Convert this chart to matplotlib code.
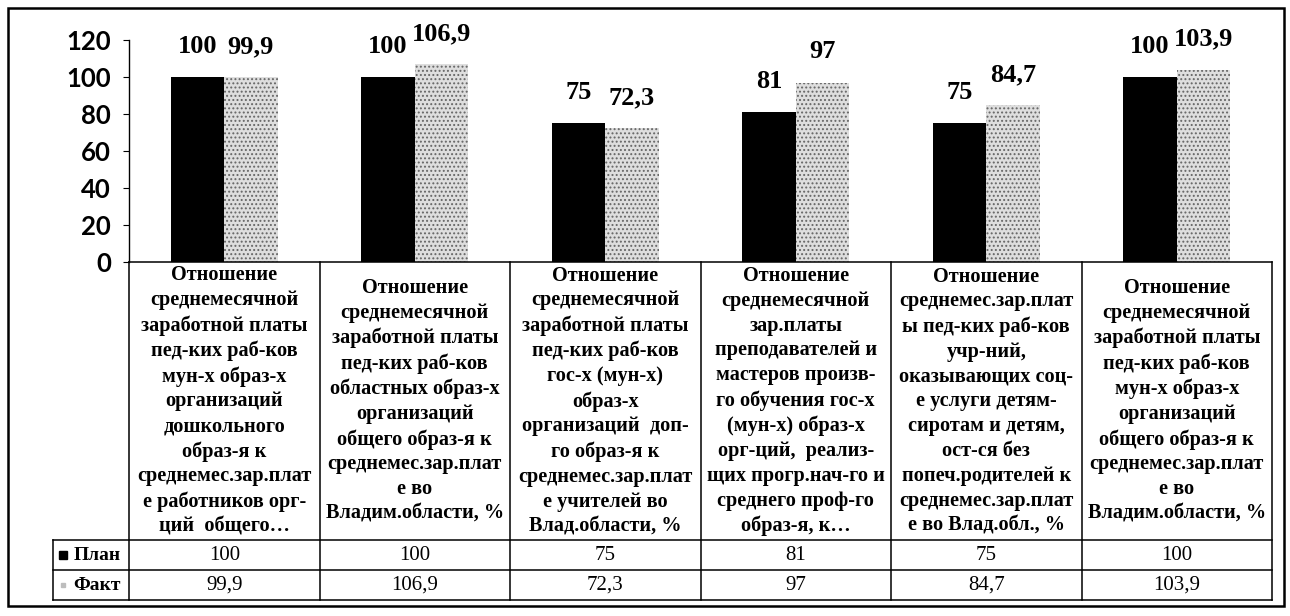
import matplotlib
matplotlib.use("Agg")
import matplotlib.pyplot as plt
from matplotlib.patches import Rectangle

# ---- data -------------------------------------------------------------
categories = [
    "Отношение\nсреднемесячной\nзаработной платы\nпед-ких раб-ков\nмун-х образ-х\nорганизаций\nдошкольного\nобраз-я к\nсреднемес.зар.плат\nе работников орг-\nций  общего…",
    "Отношение\nсреднемесячной\nзаработной платы\nпед-ких раб-ков\nобластных образ-х\nорганизаций\nобщего образ-я к\nсреднемес.зар.плат\nе во\nВладим.области, %",
    "Отношение\nсреднемесячной\nзаработной платы\nпед-ких раб-ков\nгос-х (мун-х)\nобраз-х\nорганизаций  доп-\nго образ-я к\nсреднемес.зар.плат\nе учителей во\nВлад.области, %",
    "Отношение\nсреднемесячной\nзар.платы\nпреподавателей и\nмастеров произв-\nго обучения гос-х\n(мун-х) образ-х\nорг-ций,  реализ-\nщих прогр.нач-го и\nсреднего проф-го\nобраз-я, к…",
    "Отношение\nсреднемес.зар.плат\nы пед-ких раб-ков\nучр-ний,\nоказывающих соц-\nе услуги детям-\nсиротам и детям,\nост-ся без\nпопеч.родителей к\nсреднемес.зар.плат\nе во Влад.обл., %",
    "Отношение\nсреднемесячной\nзаработной платы\nпед-ких раб-ков\nмун-х образ-х\nорганизаций\nобщего образ-я к\nсреднемес.зар.плат\nе во\nВладим.области, %",
]
plan = [100, 100, 75, 81, 75, 100]
fact = [99.9, 106.9, 72.3, 97, 84.7, 103.9]
series_names = ["План", "Факт"]
y_ticks = [0, 20, 40, 60, 80, 100, 120]


def fmt(v):
    s = f"{v:g}"
    return s.replace(".", ",")


# ---- styling ----------------------------------------------------------
SERIF = ["Liberation Serif", "DejaVu Serif"]
SANS = ["Lato", "Liberation Sans", "DejaVu Sans"]
PLAN_COLOR = "black"
FACT_FACE = "#dedede"
FACT_HATCH = "#666666"
plt.rcParams["hatch.linewidth"] = 0.9

W, H = 1290, 616
fig = plt.figure(figsize=(W / 100, H / 100), dpi=100)
fig.patch.set_facecolor("white")

# pixel layout of the plot / table block
x_left, x_right = 129, 1272
axis_top, axis_bottom = 40, 262
table_bottom = 600
row_h = 30
header_w = 76

ax = fig.add_axes([x_left / W, 1 - axis_bottom / H,
                   (x_right - x_left) / W, (axis_bottom - axis_top) / H])
n = len(categories)
xs = list(range(n))
bw = 0.28

plan_bars = ax.bar([x - bw / 2 for x in xs], plan, width=bw,
                   color=PLAN_COLOR, linewidth=0)
fact_bars = ax.bar([x + bw / 2 for x in xs], fact, width=bw,
                   facecolor=FACT_FACE, edgecolor=FACT_HATCH, hatch="....",
                   linewidth=0)

for bars, vals in ((plan_bars, plan), (fact_bars, fact)):
    for b, v in zip(bars, vals):
        ax.annotate(fmt(v), (b.get_x() + b.get_width() / 2, v),
                    xytext=(0, 22), textcoords="offset points",
                    ha="center", va="center", fontsize=19,
                    fontweight="bold", family=SERIF, annotation_clip=False)

ax.set_xlim(-0.5, n - 0.5)
ax.set_ylim(0, 120)
ax.set_yticks(y_ticks)
ax.set_yticklabels([str(t) for t in y_ticks], fontsize=18.5,
                   fontweight="bold", family=SANS)
ax.tick_params(axis="y", length=4, width=0.8, pad=9)
ax.set_xticks([])
for side in ("top", "right", "bottom"):
    ax.spines[side].set_visible(False)
ax.spines["left"].set_linewidth(1.0)

# ---- data table below the axis ----------------------------------------
tax = fig.add_axes([x_left / W, 1 - table_bottom / H,
                    (x_right - x_left) / W, (table_bottom - axis_bottom) / H])
tax.set_xlim(ax.get_xlim())
total_h = table_bottom - axis_bottom
tax.set_ylim(0, total_h)
tax.axis("off")

unit = (x_right - x_left) / n          # pixels per category
hx = -0.5 - header_w / unit            # left edge of the header column
lw = 1.1

# horizontal rules
tax.plot([-0.5, n - 0.5], [total_h, total_h], color="black", lw=lw, clip_on=False)
for yy in (2 * row_h, row_h, 0):
    tax.plot([hx, n - 0.5], [yy, yy], color="black", lw=lw, clip_on=False)
# vertical rules
for i in range(n + 1):
    tax.plot([i - 0.5, i - 0.5], [0, total_h], color="black", lw=lw, clip_on=False)
tax.plot([hx, hx], [0, 2 * row_h], color="black", lw=lw, clip_on=False)

cat_mid = 2 * row_h + (total_h - 2 * row_h) / 2
for i, label in enumerate(categories):
    tax.text(i, cat_mid, label, ha="center", va="center", fontsize=14.6,
             fontweight="bold", family=SERIF, linespacing=1.32)

for i, (p, f) in enumerate(zip(plan, fact)):
    tax.text(i, row_h * 1.5, fmt(p), ha="center", va="center",
             fontsize=15, family=SERIF)
    tax.text(i, row_h * 0.5, fmt(f), ha="center", va="center",
             fontsize=15, family=SERIF)

# row headers with legend keys
name_x = -0.5 - 8 / unit
key_x = hx + 10 / unit
tax.text(name_x, row_h * 1.5, series_names[0], ha="right", va="center",
         fontsize=14, fontweight="bold", family=SERIF, clip_on=False)
tax.text(name_x, row_h * 0.5, series_names[1], ha="right", va="center",
         fontsize=14, fontweight="bold", family=SERIF, clip_on=False)
tax.plot([key_x], [row_h * 1.5], marker="s", ms=6, color=PLAN_COLOR,
         clip_on=False)
tax.plot([key_x], [row_h * 0.5], marker="s", ms=3, color="#bdbdbd",
         clip_on=False)

# outer frame of the chart
fig.patches.append(Rectangle((8 / W, 1 - 606 / H), (1284 - 8) / W,
                             (606 - 8) / H, transform=fig.transFigure,
                             fill=False, edgecolor="black", linewidth=1.8))

fig.savefig("out.png", dpi=100, facecolor="white")
